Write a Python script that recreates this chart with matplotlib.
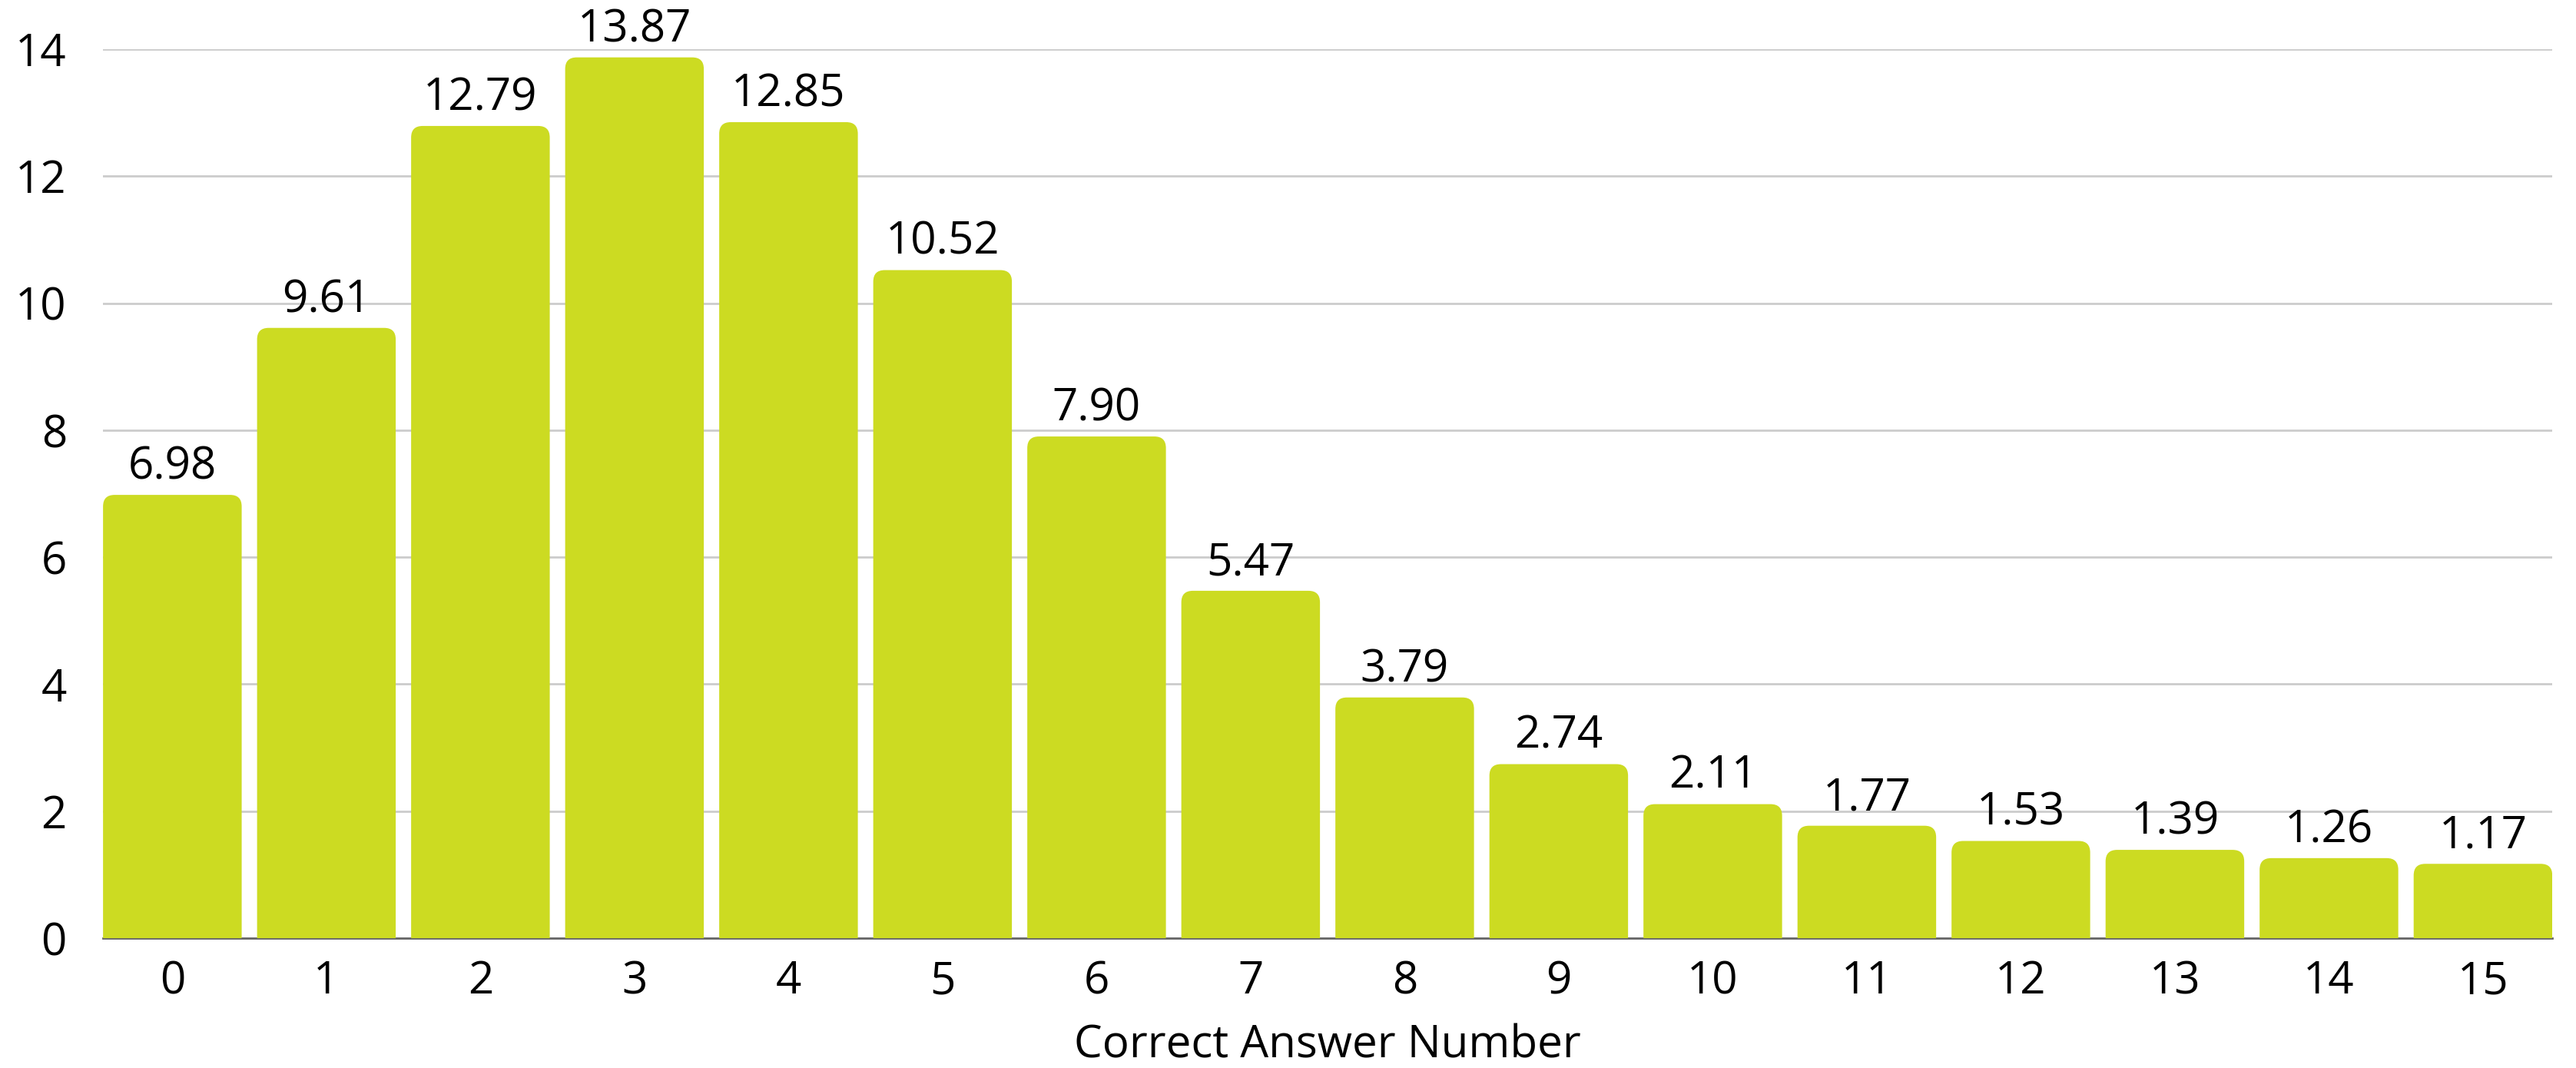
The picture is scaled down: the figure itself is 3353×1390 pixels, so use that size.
import matplotlib
matplotlib.use("Agg")
import matplotlib.pyplot as plt
from matplotlib.patches import FancyBboxPatch

# data
answers = list(range(16))
values = [6.98, 9.61, 12.79, 13.87, 12.85, 10.52, 7.90, 5.47,
          3.79, 2.74, 2.11, 1.77, 1.53, 1.39, 1.26, 1.17]
yticks = [0, 2, 4, 6, 8, 10, 12, 14]

plt.rcParams['font.family'] = ['Open Sans', 'DejaVu Sans']
bar_color = '#CCDB22'
fs = 42

fig = plt.figure(figsize=(33.53, 13.90), dpi=100)
ax = fig.add_axes([0.040, 0.1216, 0.9508, 0.8324])

ax.set_xlim(-0.45, 15.45)
ax.set_ylim(0, 14)

# corner radius ~15 px, convert to data units on each axis
px_x = ax.bbox.width / 15.9
px_y = ax.bbox.height / 14
rx = 15 / px_x
aspect = px_x / px_y

w = 0.9
for x, v in zip(answers, values):
    # box extends below 0 so only the top corners show rounded
    p = FancyBboxPatch((x - w / 2, -1), w, v + 1,
                       boxstyle="round,pad=0,rounding_size=%f" % rx,
                       mutation_aspect=aspect,
                       facecolor=bar_color, edgecolor='none', zorder=3)
    ax.add_patch(p)
    ax.text(x, v + 0.08, "%.2f" % v, ha='center', va='bottom',
            fontsize=fs, color='black', clip_on=False, zorder=4)

ax.set_yticks(yticks)
ax.set_yticklabels([str(t) for t in yticks])
ax.set_xticks(answers)
ax.set_xticklabels([str(a) for a in answers])
ax.tick_params(axis='both', length=0, labelsize=fs, colors='black')
ax.tick_params(axis='y', pad=34)
ax.tick_params(axis='x', pad=20)

ax.grid(axis='y', color='#cccccc', linewidth=2, zorder=0)
ax.set_axisbelow(True)
for s in ['top', 'right', 'left']:
    ax.spines[s].set_visible(False)
ax.spines['bottom'].set_color('#666666')
ax.spines['bottom'].set_linewidth(2)
ax.spines['bottom'].set_zorder(1)

ax.set_xlabel('Correct Answer Number', fontsize=fs, color='black', labelpad=18)

fig.savefig('out.png', dpi=100)
